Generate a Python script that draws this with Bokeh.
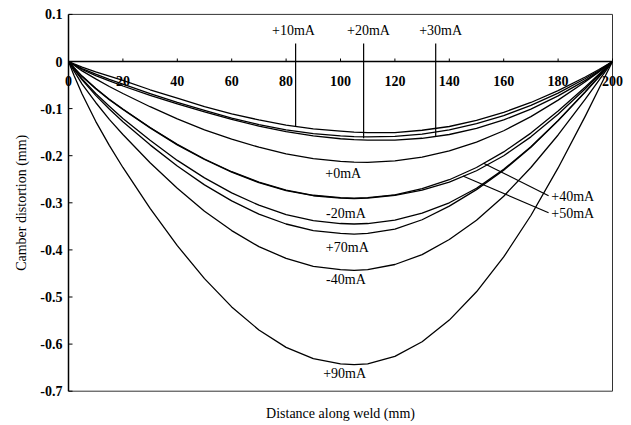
import math
from bokeh.plotting import figure
from bokeh.models import Range1d
from bokeh.core.properties import value
from bokeh.embed import file_html
from bokeh.resources import INLINE

# ---------------- data ----------------
x_mm = [0, 2, 5, 10, 15, 20, 30, 40, 50, 60, 70, 80, 90, 100, 105, 110, 120,
        130, 140, 150, 160, 170, 180, 190, 195, 200]

c_p10 = [0, -0.005, -0.012, -0.022, -0.031, -0.040, -0.060, -0.078, -0.096, -0.111,
         -0.124, -0.135, -0.143, -0.148, -0.150, -0.151, -0.151, -0.146, -0.138, -0.125,
         -0.108, -0.087, -0.062, -0.033, -0.017, 0]
c_p20 = [0, -0.006, -0.015, -0.027, -0.038, -0.048, -0.068, -0.087, -0.104, -0.120,
         -0.134, -0.145, -0.153, -0.158, -0.1595, -0.160, -0.159, -0.154, -0.145, -0.132,
         -0.115, -0.093, -0.067, -0.036, -0.019, 0]
c_p30 = [0, -0.007, -0.017, -0.030, -0.041, -0.052, -0.072, -0.090, -0.107, -0.123,
         -0.137, -0.149, -0.158, -0.164, -0.166, -0.167, -0.167, -0.163, -0.155, -0.142,
         -0.124, -0.101, -0.073, -0.040, -0.021, 0]
c_p0 = [0, -0.008, -0.020, -0.037, -0.053, -0.068, -0.096, -0.122, -0.145, -0.165,
        -0.182, -0.196, -0.206, -0.212, -0.2135, -0.214, -0.211, -0.203, -0.190, -0.171,
        -0.147, -0.117, -0.082, -0.043, -0.022, 0]
c_p40 = [0, -0.013, -0.031, -0.057, -0.080, -0.101, -0.140, -0.176, -0.207, -0.234,
         -0.256, -0.273, -0.284, -0.289, -0.290, -0.289, -0.283, -0.270, -0.251, -0.225,
         -0.192, -0.152, -0.105, -0.054, -0.027, 0]
c_p50 = [0, -0.013, -0.032, -0.058, -0.081, -0.102, -0.141, -0.177, -0.208, -0.235,
         -0.257, -0.274, -0.285, -0.290, -0.291, -0.290, -0.284, -0.273, -0.256, -0.232,
         -0.200, -0.160, -0.112, -0.058, -0.029, 0]
c_m20 = [0, -0.015, -0.037, -0.068, -0.095, -0.121, -0.167, -0.210, -0.247, -0.279,
         -0.305, -0.325, -0.338, -0.344, -0.345, -0.344, -0.337, -0.322, -0.300, -0.269,
         -0.229, -0.181, -0.125, -0.064, -0.032, 0]
c_p70 = [0, -0.016, -0.039, -0.072, -0.101, -0.128, -0.177, -0.222, -0.262, -0.296,
         -0.324, -0.345, -0.359, -0.365, -0.3665, -0.365, -0.356, -0.336, -0.307, -0.272,
         -0.231, -0.182, -0.126, -0.065, -0.033, 0]
c_m40 = [0, -0.020, -0.048, -0.087, -0.123, -0.155, -0.215, -0.269, -0.318, -0.359,
         -0.393, -0.418, -0.435, -0.442, -0.4435, -0.442, -0.431, -0.410, -0.378, -0.337,
         -0.286, -0.225, -0.156, -0.080, -0.040, 0]
c_p90 = [0, -0.029, -0.069, -0.127, -0.178, -0.225, -0.312, -0.391, -0.461, -0.521,
         -0.570, -0.607, -0.631, -0.642, -0.6437, -0.642, -0.626, -0.595, -0.549, -0.489,
         -0.415, -0.327, -0.226, -0.116, -0.058, 0]

series = [c_p10, c_p20, c_p30, c_p0, c_p40, c_p50, c_m20, c_p70, c_m40, c_p90]

x_ticks = [0, 20, 40, 60, 80, 100, 120, 140, 160, 180, 200]
x_tick_labels = ["0", "20", "40", "60", "80", "100", "120", "140", "160", "180", "200"]
y_ticks = [-0.7, -0.6, -0.5, -0.4, -0.3, -0.2, -0.1, 0, 0.1]
y_tick_labels = ["-0.7", "-0.6", "-0.5", "-0.4", "-0.3", "-0.2", "-0.1", "0", "0.1"]

x_title = "Distance along weld (mm)"
y_title = "Camber distortion (mm)"

# annotations (label texts and where they sit)
top_names = ["+10mA", "+20mA", "+30mA"]
top_name_x = [82.7, 110.3, 136.8]
top_name_y = [0.066, 0.066, 0.066]
top_ptr_x = [83.5, 108.5, 135.0]
top_ptr_y0 = [0.038, 0.038, 0.038]
top_ptr_y1 = [-0.138, -0.163, -0.160]

side_names = ["+40mA", "+50mA"]
side_ptr_x0 = [152.6, 145.0]
side_ptr_y0 = [-0.216, -0.243]
side_ptr_x1 = [176.5, 176.5]
side_ptr_y1 = [-0.285, -0.321]
side_name_x = [177.5, 177.5]
side_name_y = [-0.286, -0.322]

mid_names = ["+0mA", "-20mA", "+70mA", "-40mA", "+90mA"]
mid_name_x = [101.0, 102.0, 102.5, 102.0, 101.5]
mid_name_y = [-0.238, -0.323, -0.395, -0.463, -0.662]

FONT = "Liberation Serif"

# ---------------- layout geometry (pixels) ----------------
W, H = 631, 425
X0_PX, PX_PER_X = 68.0, 2.72       # x = 0 at 68 px, 2.72 px per mm
Y0_PX, PX_PER_Y = 61.0, 471.0      # y = 0 at 61 px, 471 px per mm

p = figure(width=W, height=H,
           x_range=Range1d(-X0_PX / PX_PER_X, (W - X0_PX) / PX_PER_X),
           y_range=Range1d(-(H - Y0_PX) / PX_PER_Y, Y0_PX / PX_PER_Y),
           output_backend="svg", toolbar_location=None,
           x_axis_location=None, y_axis_location=None,
           min_border=0, min_border_left=0, min_border_right=0,
           min_border_top=0, min_border_bottom=0)
p.background_fill_color = "white"
p.border_fill_color = "white"
p.outline_line_color = None
p.grid.visible = False

xmin, xmax = x_ticks[0], x_ticks[-1]
ymin, ymax = y_ticks[0], y_ticks[-1]

# plot box
p.segment(x0=[xmin, xmax, xmin], y0=[ymax, ymin, ymin], x1=[xmax, xmax, xmax], y1=[ymax, ymax, ymin],
          line_color="#333333", line_width=1)
# left axis
p.segment(x0=[xmin], y0=[ymin], x1=[xmin], y1=[ymax], line_color="black", line_width=1.5)
ny = len(y_ticks)
p.segment(x0=[xmin] * ny, y0=y_ticks, x1=[xmin + 4 / PX_PER_X] * ny, y1=y_ticks,
          line_color="black", line_width=1)
p.text(x=[xmin] * ny, y=y_ticks, text=y_tick_labels, x_offset=-6, text_align="right",
       text_baseline="middle", text_font=value(FONT), text_font_style="bold",
       text_font_size="14px", text_color="black")

# zero line with its ticks and labels
nx = len(x_ticks)
p.segment(x0=[xmin], y0=[0], x1=[xmax], y1=[0], line_color="black", line_width=1.5)
p.segment(x0=x_ticks, y0=[0] * nx, x1=x_ticks, y1=[3 / PX_PER_Y] * nx, line_color="black", line_width=1)
p.text(x=x_ticks, y=[-19 / PX_PER_Y] * nx, text=x_tick_labels, text_align="center",
       text_baseline="middle", text_font=value(FONT), text_font_style="bold",
       text_font_size="14px", text_color="black")

# axis titles
p.text(x=[(xmin + xmax) / 2], y=[-(413 - Y0_PX) / PX_PER_Y], text=[x_title], text_align="center",
       text_baseline="middle", text_font=value(FONT), text_font_size="14px", text_color="black")
p.text(x=[-(X0_PX - 21) / PX_PER_X], y=[(ymin + ymax) / 2], text=[y_title], angle=math.pi / 2,
       text_align="center", text_baseline="middle", text_font=value(FONT),
       text_font_size="14px", text_color="black")

# curves
for ys in series:
    p.line(x_mm, ys, line_color="black", line_width=1.3, line_join="round")

# pointers and labels
p.segment(x0=top_ptr_x, y0=top_ptr_y0, x1=top_ptr_x, y1=top_ptr_y1, line_color="black", line_width=1.2)
p.segment(x0=side_ptr_x0, y0=side_ptr_y0, x1=side_ptr_x1, y1=side_ptr_y1, line_color="black", line_width=1.2)

p.text(x=top_name_x, y=top_name_y, text=top_names, text_align="center", text_baseline="middle",
       text_font=value(FONT), text_font_size="14px", text_color="black")
p.text(x=side_name_x, y=side_name_y, text=side_names, text_align="left", text_baseline="middle",
       text_font=value(FONT), text_font_size="14px", text_color="black")
p.text(x=mid_name_x, y=mid_name_y, text=mid_names, text_align="center", text_baseline="middle",
       text_font=value(FONT), text_font_size="14px", text_color="black")

open("out.html", "w").write(file_html(p, INLINE))
